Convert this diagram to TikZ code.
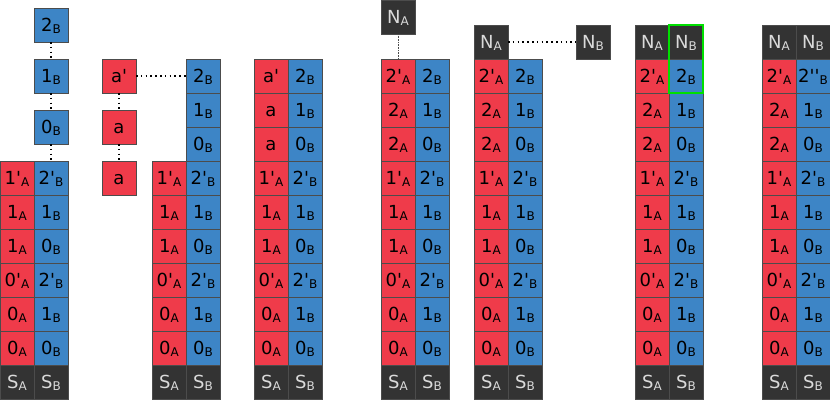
\documentclass[tikz,border=0pt]{standalone}
\usepackage{fontspec}
\setmainfont{DejaVu Sans}[Ligatures=TeXOff]
\usetikzlibrary{positioning}
\definecolor{CellRed}{HTML}{EF3B4A}
\definecolor{CellBlue}{HTML}{3D85C6}
\definecolor{Charcoal}{HTML}{333333}
\definecolor{Ash}{HTML}{DADADA}
\definecolor{Lime}{HTML}{00E000}
\newcommand{\cl}[2]{#1\raisebox{-1.8pt}{\fontsize{12}{12}\selectfont #2}}
\tikzset{
  cell/.style={draw=black!70,line width=.5pt,minimum size=34pt,inner sep=0pt,
    outer sep=0pt,text height=14pt,text depth=1.2pt,font=\fontsize{18}{18}\selectfont},
  red cell/.style={cell,fill=CellRed,text=black},
  blue cell/.style={cell,fill=CellBlue,text=black},
  dark cell/.style={cell,fill=Charcoal,text=Ash},
  link dots/.style={line width=1.6pt,dash pattern=on 1.6pt off 3.2pt,draw=black},
  fine dots/.style={line width=.8pt,dash pattern=on .8pt off .8pt,draw=black!70},
  pick box/.style={draw=Lime,line width=1.5pt}
}
\begin{document}
\begin{tikzpicture}[x=1pt,y=1pt,node distance=0pt]
  \useasboundingbox (0,0) rectangle (830,399);
  % stack 1
  \node[dark cell] (c1a0) at (17,17) {\cl{S}{A}};
  \node[dark cell,right=of c1a0] (c1b0) {\cl{S}{B}};
  \node[red cell,above=of c1a0] (c1a1) {\cl{0}{A}};
  \node[blue cell,right=of c1a1] (c1b1) {\cl{0}{B}};
  \node[red cell,above=of c1a1] (c1a2) {\cl{0}{A}};
  \node[blue cell,right=of c1a2] (c1b2) {\cl{1}{B}};
  \node[red cell,above=of c1a2] (c1a3) {\cl{0'}{A}};
  \node[blue cell,right=of c1a3] (c1b3) {\cl{2'}{B}};
  \node[red cell,above=of c1a3] (c1a4) {\cl{1}{A}};
  \node[blue cell,right=of c1a4] (c1b4) {\cl{0}{B}};
  \node[red cell,above=of c1a4] (c1a5) {\cl{1}{A}};
  \node[blue cell,right=of c1a5] (c1b5) {\cl{1}{B}};
  \node[red cell,above=of c1a5] (c1a6) {\cl{1'}{A}};
  \node[blue cell,right=of c1a6] (c1b6) {\cl{2'}{B}};
  \node[blue cell,above=17pt of c1b6] (c1f0) {\cl{0}{B}};
  \node[blue cell,above=17pt of c1f0] (c1f1) {\cl{1}{B}};
  \node[blue cell,above=17pt of c1f1] (c1f2) {\cl{2}{B}};
  \draw[link dots] (c1f2) -- (c1f1);
  \draw[link dots] (c1f1) -- (c1f0);
  \draw[link dots] (c1f0) -- (c1b6);
  % loose a column
  \node[red cell] (ta0) at (119,221) {a};
  \node[red cell,above=17pt of ta0] (ta1) {a};
  \node[red cell,above=17pt of ta1] (ta2) {a'};
  \draw[link dots] (ta2) -- (ta1);
  \draw[link dots] (ta1) -- (ta0);
  % stack 2
  \node[dark cell] (c2a0) at (169,17) {\cl{S}{A}};
  \node[dark cell,right=of c2a0] (c2b0) {\cl{S}{B}};
  \node[red cell,above=of c2a0] (c2a1) {\cl{0}{A}};
  \node[blue cell,right=of c2a1] (c2b1) {\cl{0}{B}};
  \node[red cell,above=of c2a1] (c2a2) {\cl{0}{A}};
  \node[blue cell,right=of c2a2] (c2b2) {\cl{1}{B}};
  \node[red cell,above=of c2a2] (c2a3) {\cl{0'}{A}};
  \node[blue cell,right=of c2a3] (c2b3) {\cl{2'}{B}};
  \node[red cell,above=of c2a3] (c2a4) {\cl{1}{A}};
  \node[blue cell,right=of c2a4] (c2b4) {\cl{0}{B}};
  \node[red cell,above=of c2a4] (c2a5) {\cl{1}{A}};
  \node[blue cell,right=of c2a5] (c2b5) {\cl{1}{B}};
  \node[red cell,above=of c2a5] (c2a6) {\cl{1'}{A}};
  \node[blue cell,right=of c2a6] (c2b6) {\cl{2'}{B}};
  \node[blue cell,above=of c2b6] (c2b7) {\cl{0}{B}};
  \node[blue cell,above=of c2b7] (c2b8) {\cl{1}{B}};
  \node[blue cell,above=of c2b8] (c2b9) {\cl{2}{B}};
  \draw[link dots] (ta2) -- (c2b9);
  % stack 3
  \node[dark cell] (c3a0) at (271,17) {\cl{S}{A}};
  \node[dark cell,right=of c3a0] (c3b0) {\cl{S}{B}};
  \node[red cell,above=of c3a0] (c3a1) {\cl{0}{A}};
  \node[blue cell,right=of c3a1] (c3b1) {\cl{0}{B}};
  \node[red cell,above=of c3a1] (c3a2) {\cl{0}{A}};
  \node[blue cell,right=of c3a2] (c3b2) {\cl{1}{B}};
  \node[red cell,above=of c3a2] (c3a3) {\cl{0'}{A}};
  \node[blue cell,right=of c3a3] (c3b3) {\cl{2'}{B}};
  \node[red cell,above=of c3a3] (c3a4) {\cl{1}{A}};
  \node[blue cell,right=of c3a4] (c3b4) {\cl{0}{B}};
  \node[red cell,above=of c3a4] (c3a5) {\cl{1}{A}};
  \node[blue cell,right=of c3a5] (c3b5) {\cl{1}{B}};
  \node[red cell,above=of c3a5] (c3a6) {\cl{1'}{A}};
  \node[blue cell,right=of c3a6] (c3b6) {\cl{2'}{B}};
  \node[red cell,above=of c3a6] (c3a7) {a};
  \node[blue cell,right=of c3a7] (c3b7) {\cl{0}{B}};
  \node[red cell,above=of c3a7] (c3a8) {a};
  \node[blue cell,right=of c3a8] (c3b8) {\cl{1}{B}};
  \node[red cell,above=of c3a8] (c3a9) {a'};
  \node[blue cell,right=of c3a9] (c3b9) {\cl{2}{B}};
  % stack 4
  \node[dark cell] (c4a0) at (398,17) {\cl{S}{A}};
  \node[dark cell,right=of c4a0] (c4b0) {\cl{S}{B}};
  \node[red cell,above=of c4a0] (c4a1) {\cl{0}{A}};
  \node[blue cell,right=of c4a1] (c4b1) {\cl{0}{B}};
  \node[red cell,above=of c4a1] (c4a2) {\cl{0}{A}};
  \node[blue cell,right=of c4a2] (c4b2) {\cl{1}{B}};
  \node[red cell,above=of c4a2] (c4a3) {\cl{0'}{A}};
  \node[blue cell,right=of c4a3] (c4b3) {\cl{2'}{B}};
  \node[red cell,above=of c4a3] (c4a4) {\cl{1}{A}};
  \node[blue cell,right=of c4a4] (c4b4) {\cl{0}{B}};
  \node[red cell,above=of c4a4] (c4a5) {\cl{1}{A}};
  \node[blue cell,right=of c4a5] (c4b5) {\cl{1}{B}};
  \node[red cell,above=of c4a5] (c4a6) {\cl{1'}{A}};
  \node[blue cell,right=of c4a6] (c4b6) {\cl{2'}{B}};
  \node[red cell,above=of c4a6] (c4a7) {\cl{2}{A}};
  \node[blue cell,right=of c4a7] (c4b7) {\cl{0}{B}};
  \node[red cell,above=of c4a7] (c4a8) {\cl{2}{A}};
  \node[blue cell,right=of c4a8] (c4b8) {\cl{1}{B}};
  \node[red cell,above=of c4a8] (c4a9) {\cl{2'}{A}};
  \node[blue cell,right=of c4a9] (c4b9) {\cl{2}{B}};
  \node[dark cell,above=25pt of c4a9] (c4na) {\cl{N}{A}};
  \draw[fine dots] (c4na) -- (c4a9);
  % stack 5
  \node[dark cell] (c5a0) at (491,17) {\cl{S}{A}};
  \node[dark cell,right=of c5a0] (c5b0) {\cl{S}{B}};
  \node[red cell,above=of c5a0] (c5a1) {\cl{0}{A}};
  \node[blue cell,right=of c5a1] (c5b1) {\cl{0}{B}};
  \node[red cell,above=of c5a1] (c5a2) {\cl{0}{A}};
  \node[blue cell,right=of c5a2] (c5b2) {\cl{1}{B}};
  \node[red cell,above=of c5a2] (c5a3) {\cl{0'}{A}};
  \node[blue cell,right=of c5a3] (c5b3) {\cl{2'}{B}};
  \node[red cell,above=of c5a3] (c5a4) {\cl{1}{A}};
  \node[blue cell,right=of c5a4] (c5b4) {\cl{0}{B}};
  \node[red cell,above=of c5a4] (c5a5) {\cl{1}{A}};
  \node[blue cell,right=of c5a5] (c5b5) {\cl{1}{B}};
  \node[red cell,above=of c5a5] (c5a6) {\cl{1'}{A}};
  \node[blue cell,right=of c5a6] (c5b6) {\cl{2'}{B}};
  \node[red cell,above=of c5a6] (c5a7) {\cl{2}{A}};
  \node[blue cell,right=of c5a7] (c5b7) {\cl{0}{B}};
  \node[red cell,above=of c5a7] (c5a8) {\cl{2}{A}};
  \node[blue cell,right=of c5a8] (c5b8) {\cl{1}{B}};
  \node[red cell,above=of c5a8] (c5a9) {\cl{2'}{A}};
  \node[blue cell,right=of c5a9] (c5b9) {\cl{2}{B}};
  \node[dark cell,above=of c5a9] (c5na) {\cl{N}{A}};
  \node[dark cell,right=68pt of c5na] (c5nb) {\cl{N}{B}};
  \draw[link dots] (c5na) -- (c5nb);
  % stack 6
  \node[dark cell] (c6a0) at (652,17) {\cl{S}{A}};
  \node[dark cell,right=of c6a0] (c6b0) {\cl{S}{B}};
  \node[red cell,above=of c6a0] (c6a1) {\cl{0}{A}};
  \node[blue cell,right=of c6a1] (c6b1) {\cl{0}{B}};
  \node[red cell,above=of c6a1] (c6a2) {\cl{0}{A}};
  \node[blue cell,right=of c6a2] (c6b2) {\cl{1}{B}};
  \node[red cell,above=of c6a2] (c6a3) {\cl{0'}{A}};
  \node[blue cell,right=of c6a3] (c6b3) {\cl{2'}{B}};
  \node[red cell,above=of c6a3] (c6a4) {\cl{1}{A}};
  \node[blue cell,right=of c6a4] (c6b4) {\cl{0}{B}};
  \node[red cell,above=of c6a4] (c6a5) {\cl{1}{A}};
  \node[blue cell,right=of c6a5] (c6b5) {\cl{1}{B}};
  \node[red cell,above=of c6a5] (c6a6) {\cl{1'}{A}};
  \node[blue cell,right=of c6a6] (c6b6) {\cl{2'}{B}};
  \node[red cell,above=of c6a6] (c6a7) {\cl{2}{A}};
  \node[blue cell,right=of c6a7] (c6b7) {\cl{0}{B}};
  \node[red cell,above=of c6a7] (c6a8) {\cl{2}{A}};
  \node[blue cell,right=of c6a8] (c6b8) {\cl{1}{B}};
  \node[red cell,above=of c6a8] (c6a9) {\cl{2'}{A}};
  \node[blue cell,right=of c6a9] (c6b9) {\cl{2}{B}};
  \node[dark cell,above=of c6a9] (c6na) {\cl{N}{A}};
  \node[dark cell,right=of c6na] (c6nb) {\cl{N}{B}};
  \draw[pick box] (c6nb.north west) rectangle (c6b9.south east);
  % stack 7
  \node[dark cell] (c7a0) at (779,17) {\cl{S}{A}};
  \node[dark cell,right=of c7a0] (c7b0) {\cl{S}{B}};
  \node[red cell,above=of c7a0] (c7a1) {\cl{0}{A}};
  \node[blue cell,right=of c7a1] (c7b1) {\cl{0}{B}};
  \node[red cell,above=of c7a1] (c7a2) {\cl{0}{A}};
  \node[blue cell,right=of c7a2] (c7b2) {\cl{1}{B}};
  \node[red cell,above=of c7a2] (c7a3) {\cl{0'}{A}};
  \node[blue cell,right=of c7a3] (c7b3) {\cl{2'}{B}};
  \node[red cell,above=of c7a3] (c7a4) {\cl{1}{A}};
  \node[blue cell,right=of c7a4] (c7b4) {\cl{0}{B}};
  \node[red cell,above=of c7a4] (c7a5) {\cl{1}{A}};
  \node[blue cell,right=of c7a5] (c7b5) {\cl{1}{B}};
  \node[red cell,above=of c7a5] (c7a6) {\cl{1'}{A}};
  \node[blue cell,right=of c7a6] (c7b6) {\cl{2'}{B}};
  \node[red cell,above=of c7a6] (c7a7) {\cl{2}{A}};
  \node[blue cell,right=of c7a7] (c7b7) {\cl{0}{B}};
  \node[red cell,above=of c7a7] (c7a8) {\cl{2}{A}};
  \node[blue cell,right=of c7a8] (c7b8) {\cl{1}{B}};
  \node[red cell,above=of c7a8] (c7a9) {\cl{2'}{A}};
  \node[blue cell,right=of c7a9] (c7b9) {\cl{2''}{B}};
  \node[dark cell,above=of c7a9] (c7na) {\cl{N}{A}};
  \node[dark cell,right=of c7na] (c7nb) {\cl{N}{B}};
\end{tikzpicture}
\end{document}
